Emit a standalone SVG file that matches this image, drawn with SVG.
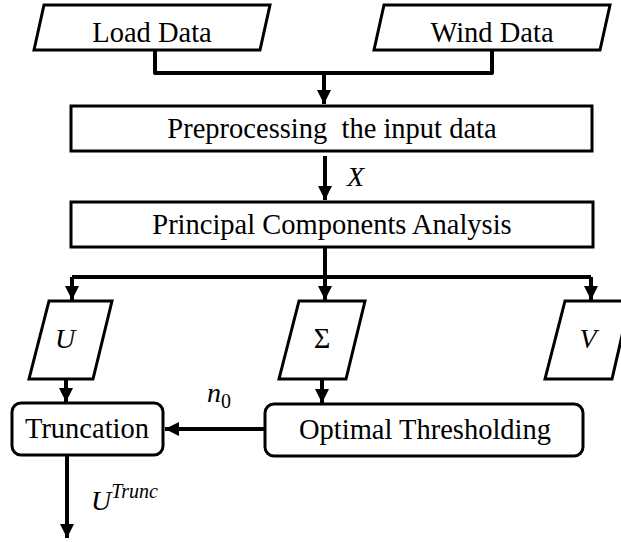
<svg xmlns="http://www.w3.org/2000/svg" width="621" height="542" viewBox="0 0 621 542">
  <style>
    .box { fill: #fff; stroke: #000; stroke-width: 3; stroke-linejoin: miter; }
    .wire { fill: none; stroke: #000; stroke-width: 4; stroke-linejoin: round; }
    text { font-family: 'Liberation Serif', 'DejaVu Serif', serif; fill: #000; }
    .lbl { font-size: 28.5px; text-anchor: middle; }
    .math { font-style: italic; font-size: 28px; }
  </style>
  <defs>
    <marker id="head" viewBox="0 0 10 10" refX="10" refY="5" markerWidth="3.6" markerHeight="3.6" markerUnits="strokeWidth" orient="auto">
      <path d="M0,0 L10,5 L0,10 Z" fill="#000"/>
    </marker>
  </defs>

  <rect width="621" height="542" fill="#fff"/>

  <g id="connectors">
    <path class="wire" d="M155,50 V73 H492 V50"/>
    <path class="wire" d="M324,73 V104" marker-end="url(#head)"/>
    <path class="wire" d="M325,156 V200" marker-end="url(#head)"/>
    <path class="wire" d="M325,247 V277"/>
    <path class="wire" d="M72,277 H591"/>
    <path class="wire" d="M72,277 V300" marker-end="url(#head)"/>
    <path class="wire" d="M325,277 V300" marker-end="url(#head)"/>
    <path class="wire" d="M591,277 V300" marker-end="url(#head)"/>
    <path class="wire" d="M66,379 V402" marker-end="url(#head)"/>
    <path class="wire" d="M322,379 V403" marker-end="url(#head)"/>
    <path class="wire" d="M265,429 H165" marker-end="url(#head)"/>
    <path class="wire" d="M67,455 V538" marker-end="url(#head)"/>
    <text class="math" x="347" y="186" font-family="Liberation Serif">X</text>
    <text class="math" x="207" y="402" font-family="Liberation Serif">n<tspan font-style="normal" font-size="20" dy="6">0</tspan></text>
    <text class="math" x="91" y="510" font-family="Liberation Serif">U<tspan font-size="20" dy="-12">Trunc</tspan></text>
  </g>

  <g id="load-data">
    <polygon class="box" points="44,5 270,5 260,50 34,50"/>
    <text class="lbl" x="152" y="42" font-family="Liberation Serif">Load Data</text>
  </g>

  <g id="wind-data">
    <polygon class="box" points="384,5 610,5 600,50 374,50"/>
    <text class="lbl" x="492" y="42" font-family="Liberation Serif">Wind Data</text>
  </g>

  <g id="preprocessing">
    <rect class="box" x="71" y="106" width="521" height="45"/>
    <text class="lbl" x="332" y="138" font-family="Liberation Serif" xml:space="preserve">Preprocessing  the input data</text>
  </g>

  <g id="pca">
    <rect class="box" x="71" y="202" width="522" height="45"/>
    <text class="lbl" x="332" y="234" font-family="Liberation Serif">Principal Components Analysis</text>
  </g>

  <g id="u">
    <polygon class="box" points="49,301 112,301 93,379 29,379"/>
    <text class="math" x="65" y="348" text-anchor="middle" font-family="Liberation Serif">U</text>
  </g>

  <g id="sigma">
    <polygon class="box" points="299,301 365,301 346,379 279,379"/>
    <text class="lbl" x="322" y="348" font-family="Liberation Serif">Σ</text>
  </g>

  <g id="v">
    <polygon class="box" points="565,301 630,301 612,379 545,379"/>
    <text class="math" x="588" y="348" text-anchor="middle" font-family="Liberation Serif">V</text>
  </g>

  <g id="truncation">
    <rect class="box" x="12" y="403" width="151" height="52" rx="9"/>
    <text class="lbl" x="87" y="438" font-family="Liberation Serif">Truncation</text>
  </g>

  <g id="optimal-thresholding">
    <rect class="box" x="265" y="404" width="318" height="52" rx="9"/>
    <text class="lbl" x="425" y="439" font-family="Liberation Serif">Optimal Thresholding</text>
  </g>
</svg>
